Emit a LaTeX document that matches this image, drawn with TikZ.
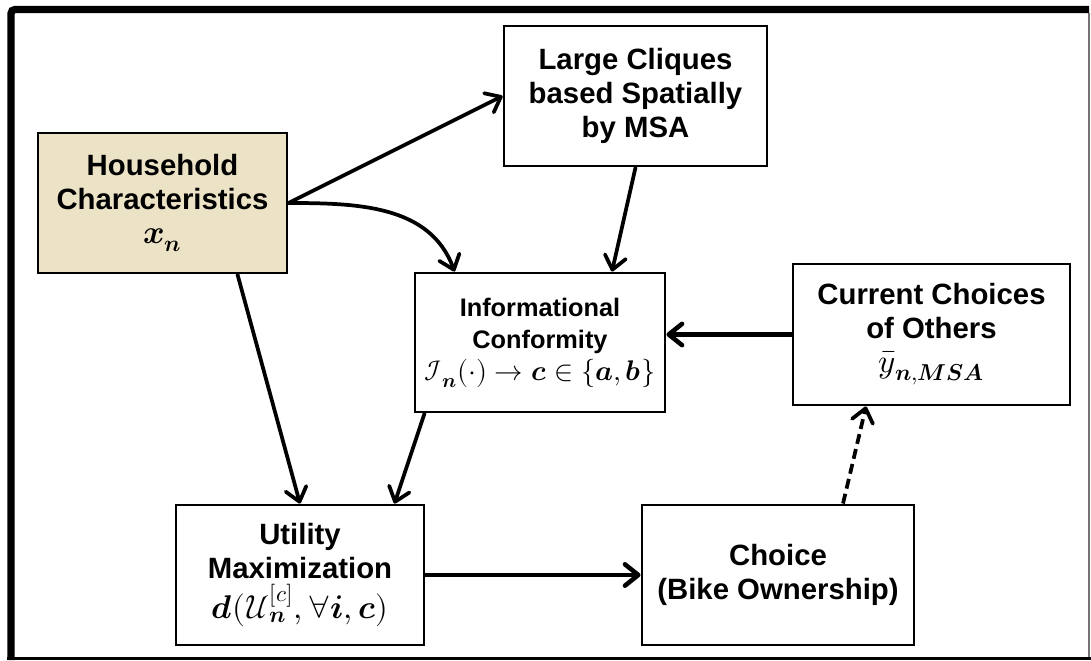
\documentclass[tikz,border=0pt]{standalone}
\usepackage{fontspec}
\usepackage{unicode-math}
\setmainfont{Liberation Sans}
\setmathfont{Latin Modern Math}[Scale=1.12]
\usetikzlibrary{arrows.meta,calc}
\definecolor{hhfill}{RGB}{236,226,197}
\tikzset{
  box/.style={draw, line width=2.2pt, align=center, inner sep=0pt,
    font=\bfseries\fontsize{22}{25.5}\selectfont},
  smalltext/.style={font=\bfseries\fontsize{19}{24}\selectfont},
  wh/.style 2 args={minimum width=#1*0.75pt, minimum height=#2*0.75pt},
  arr/.style={line width=2.8pt, line cap=round,
    -{Straight Barb[length=10pt,width=16pt,line cap=round,line join=round]}},
  arrthick/.style={arr, line width=3.4pt},
  dashedarr/.style={arr, line cap=butt, dash pattern=on 7.5pt off 4pt}
}
\begin{document}
\begin{tikzpicture}[x=0.75pt,y=-0.75pt]
\useasboundingbox (0,0) rectangle (1091,660);
% outer frame
\draw[line width=5.5pt, rounded corners=3pt] (1089,9.5) -- (11,9.5) -- (11,660);
\fill (7,657) rectangle (1091,660);
\draw[line width=0.8pt, black!55] (1089,13) -- (1089,657);

% boxes
\node[box, fill=hhfill, wh={249}{140}] (hh) at (162.5,203)
  {Household\\Characteristics\\$\symbfit{x}_{\symbfit{n}}$};
\node[box, wh={263}{140}] (lc) at (635.5,96)
  {Large Cliques\\based Spatially\\by MSA};
\node[box, smalltext, wh={250}{139}] (ic) at (540,342.5)
  {Informational\\Conformity\\$\mathcal{I}_{\symbfit{n}}(\cdot)\rightarrow\symbfit{c}\in\{\symbfit{a},\symbfit{b}\}$};
\node[box, wh={277}{141}] (cc) at (931.5,334.5)
  {Current Choices\\of Others\\$\bar{y}_{\symbfit{n},\symbfit{MSA}}$};
\node[box, wh={248}{140}] (um) at (300,575)
  {Utility\\Maximization\\[3pt]$\symbfit{d}(\mathcal{U}_{\symbfit{n}}^{[c]},\forall\symbfit{i},\symbfit{c})$};
\node[box, wh={272}{140}] (ch) at (778,575)
  {Choice\\(Bike Ownership)};

% connectors
\draw[arr] (hh.east) -- (lc.west);
\draw[arr] (hh.east) to[out=0,in=110] ($(ic.north west)+(41,0)$);
\draw[arr] (lc.south) -- ($(ic.north)+(72,0)$);
\draw[arr] ($(hh.south)+(75,0)$) -- (um.north);
\draw[arr] ($(ic.south west)+(11,0)$) -- ($(um.north east)+(-31,0)$);
\draw[arrthick] (cc.west) -- (cc.west -| ic.east);
\draw[arrthick] (um.east) -- (ch.west);
\draw[dashedarr] ($(ch.north)+(65,0)$) -- ($(cc.south)+(-65.5,0)$);
\end{tikzpicture}
\end{document}
